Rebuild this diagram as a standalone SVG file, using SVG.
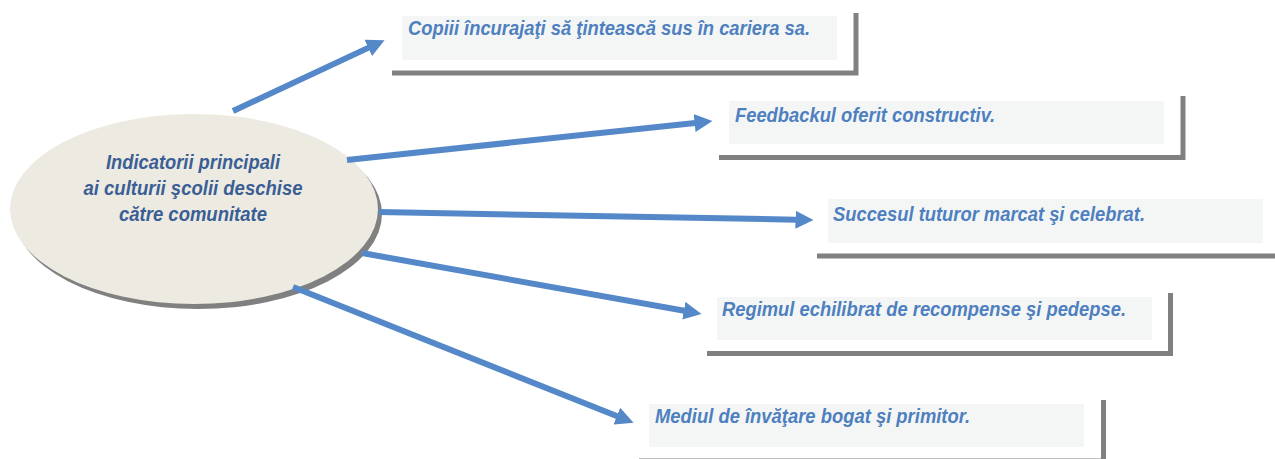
<svg xmlns="http://www.w3.org/2000/svg" width="1275" height="459" viewBox="0 0 1275 459">
<style>
.bg{fill:#f4f6f6}
.fr{fill:none;stroke:#808080;stroke-width:5}
.bt{font-family:"Liberation Sans",Arial,sans-serif;font-weight:bold;font-style:italic;font-size:20px;fill:#4e7fbf}
.et{font-family:"Liberation Sans",Arial,sans-serif;font-weight:bold;font-style:italic;font-size:20px;fill:#3a5e95;text-anchor:middle}
.cn{fill:none;stroke:#5588c8;stroke-width:6;marker-end:url(#ah)}
</style>
<defs>
<marker id="ah" markerUnits="userSpaceOnUse" markerWidth="18" markerHeight="18" viewBox="0 0 18 18" refX="0.5" refY="9" orient="auto">
<path d="M0,0 L18,9 L0,18 z" fill="#5588c8"/>
</marker>
</defs>
<rect width="1275" height="459" fill="#ffffff"/>
<g id="center">
<ellipse cx="198" cy="214" rx="184" ry="95" fill="#808080"/>
<ellipse cx="194" cy="209" rx="184" ry="95" fill="#edebe1"/>
<text class="et" x="193" y="169" textLength="174" lengthAdjust="spacingAndGlyphs">Indicatorii principali</text>
<text class="et" x="193" y="195" textLength="219" lengthAdjust="spacingAndGlyphs">ai culturii şcolii deschise</text>
<text class="et" x="193" y="221" textLength="148" lengthAdjust="spacingAndGlyphs">către comunitate</text>
</g>
<g id="n1">
<rect class="bg" x="402" y="16" width="435" height="44"/>
<polyline class="fr" points="392,73 856,73 856,13"/>
<text class="bt" x="408" y="35" textLength="402" lengthAdjust="spacingAndGlyphs">Copiii încurajaţi să ţintească sus în cariera sa.</text>
</g>
<g id="n2">
<rect class="bg" x="729" y="101" width="435" height="43"/>
<polyline class="fr" points="719,157.5 1183,157.5 1183,96"/>
<text class="bt" x="735" y="122" textLength="260" lengthAdjust="spacingAndGlyphs">Feedbackul oferit constructiv.</text>
</g>
<g id="n3">
<rect class="bg" x="828" y="199" width="435" height="44"/>
<polyline class="fr" points="817,256 1280,256"/>
<text class="bt" x="833" y="221" textLength="312" lengthAdjust="spacingAndGlyphs">Succesul tuturor marcat şi celebrat.</text>
</g>
<g id="n4">
<rect class="bg" x="717" y="297" width="435" height="43"/>
<polyline class="fr" points="707,353.5 1170.5,353.5 1170.5,293"/>
<text class="bt" x="722" y="316" textLength="404" lengthAdjust="spacingAndGlyphs">Regimul echilibrat de recompense şi pedepse.</text>
</g>
<g id="n5">
<rect class="bg" x="649" y="404" width="435" height="43"/>
<polyline class="fr" points="639,461 1103.5,461 1103.5,400"/>
<text class="bt" x="655" y="423" textLength="315" lengthAdjust="spacingAndGlyphs">Mediul de învăţare bogat şi primitor.</text>
</g>
<g id="connectors">
<path class="cn" d="M233,111 L368.7,47.6"/>
<path class="cn" d="M347,160 L695.1,122.9"/>
<path class="cn" d="M379,212 L796,219.7"/>
<path class="cn" d="M362,253 L684.3,310.8"/>
<path class="cn" d="M293,287 L617.3,416.3"/>
</g>
</svg>
